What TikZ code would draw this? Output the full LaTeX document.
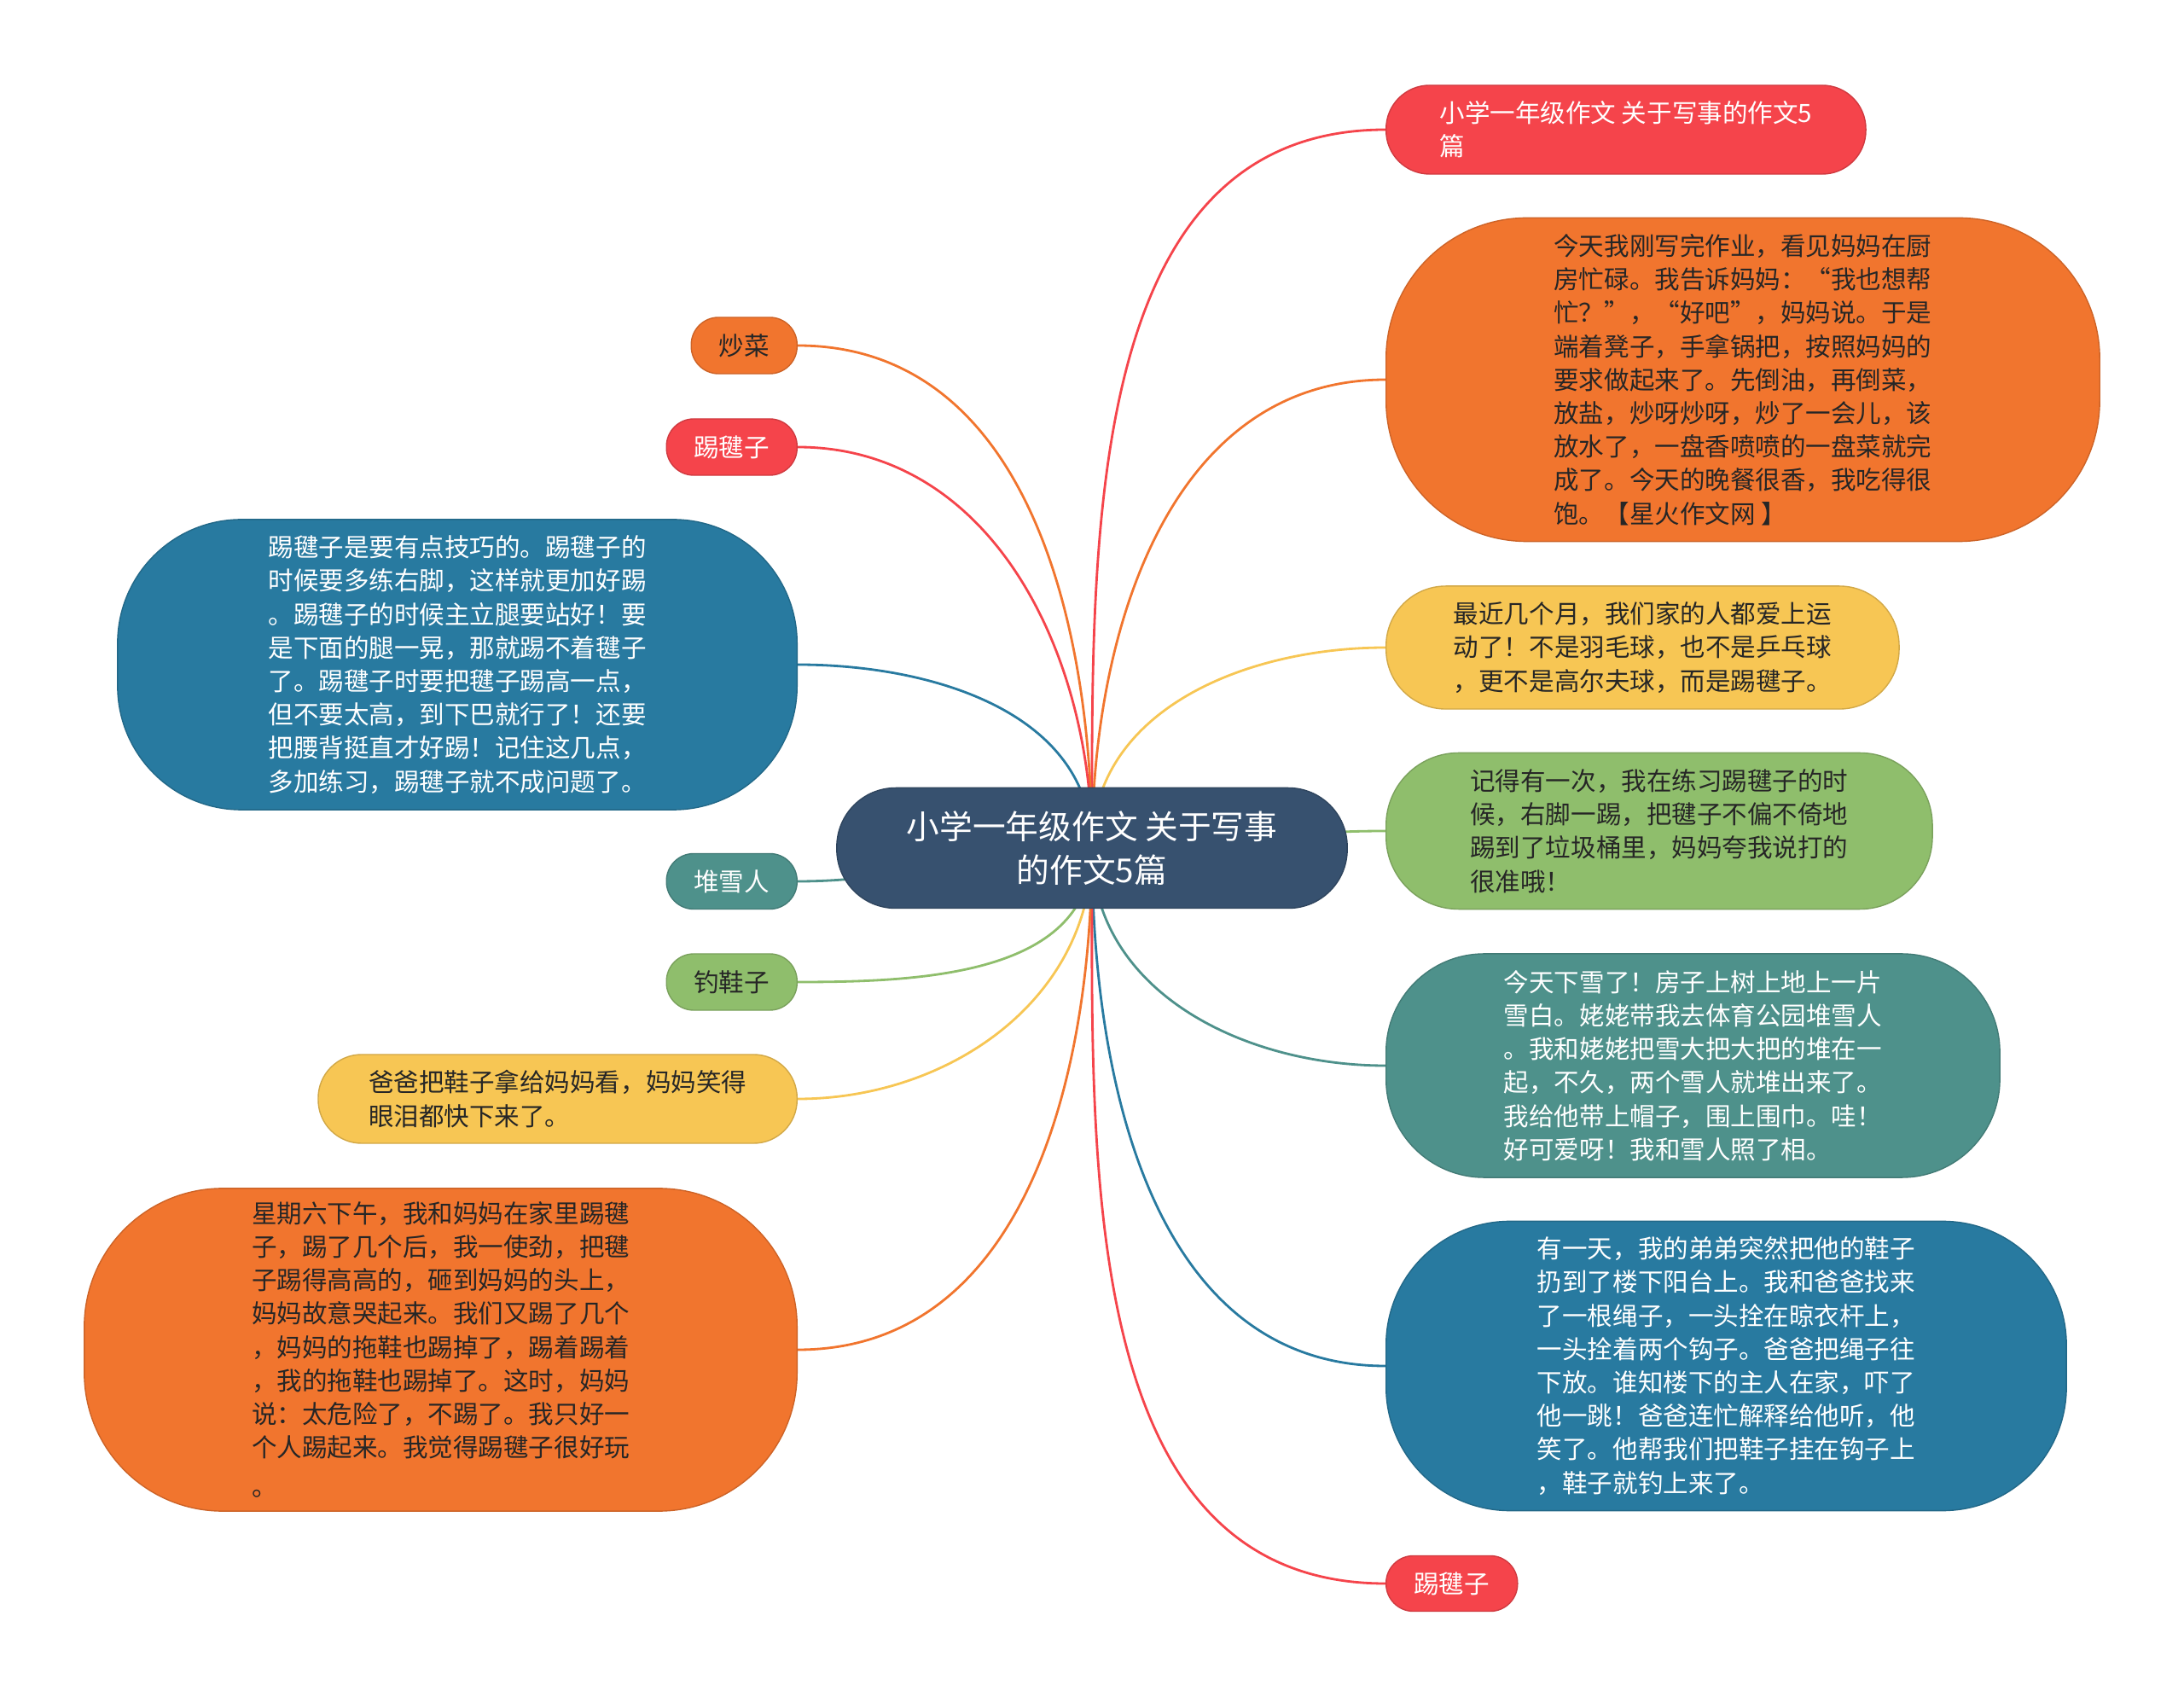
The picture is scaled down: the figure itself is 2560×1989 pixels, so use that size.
\documentclass[tikz,border=0pt]{standalone}
\usepackage{fontspec}
\setmainfont{Noto Sans CJK SC}
\usepackage{tikz}
\usetikzlibrary{positioning,backgrounds}
\definecolor{cred}{HTML}{F5444B}
\definecolor{corange}{HTML}{F1752E}
\definecolor{cyellow}{HTML}{F7C654}
\definecolor{cgreen}{HTML}{8FBE6C}
\definecolor{cteal}{HTML}{4E918B}
\definecolor{cblue}{HTML}{287AA0}
\definecolor{croot}{HTML}{37516F}
\definecolor{cdark}{HTML}{262626}

\begin{document}
\begin{tikzpicture}[x=0.01cm,y=-0.01cm,
  root node/.style={fill=croot, draw=croot!85!black, text=white, align=center, inner sep=0pt,
    font=\fontsize{11pt}{14.3pt}\selectfont},
  leaf node/.style={draw=#1!85!black, line width=0.4pt, fill=#1, align=left, inner sep=0pt,
    font=\fontsize{8.4pt}{11.15pt}\selectfont},
  link/.style={line width=0.8pt}]
\useasboundingbox (0,0) rectangle (2560,1989);

\node[root node, minimum width=5.98cm, minimum height=1.41cm, rounded corners=0.69cm] (0) at (1280,994)
  {小学一年级作文 关于写事\\的作文5篇};

% right side
\node[leaf node=cred, text=white, anchor=west, minimum width=5.62cm, minimum height=1.04cm, rounded corners=0.51cm] (1) at (1624,152)
  {小学一年级作文 关于写事的作文5\\篇};
\node[leaf node=corange, text=cdark, anchor=west, minimum width=8.36cm, minimum height=3.79cm, rounded corners=1.65cm] (2) at (1624,445)
  {今天我刚写完作业，看见妈妈在厨\\房忙碌。我告诉妈妈：“我也想帮\\忙？”，“好吧”，妈妈说。于是\\端着凳子，手拿锅把，按照妈妈的\\要求做起来了。先倒油，再倒菜，\\放盐，炒呀炒呀，炒了一会儿，该\\放水了，一盘香喷喷的一盘菜就完\\成了。今天的晚餐很香，我吃得很\\饱。【星火作文网 】};
\node[leaf node=cyellow, text=cdark, anchor=west, minimum width=6.01cm, minimum height=1.44cm, rounded corners=0.70cm] (3) at (1624,759)
  {最近几个月，我们家的人都爱上运\\动了！不是羽毛球，也不是乒乓球\\，更不是高尔夫球，而是踢毽子。};
\node[leaf node=cgreen, text=cdark, anchor=west, minimum width=6.40cm, minimum height=1.83cm, rounded corners=0.85cm] (4) at (1624,974)
  {记得有一次，我在练习踢毽子的时\\候，右脚一踢，把毽子不偏不倚地\\踢到了垃圾桶里，妈妈夸我说打的\\很准哦！};
\node[leaf node=cteal, text=white, anchor=west, minimum width=7.19cm, minimum height=2.62cm, rounded corners=1.15cm] (5) at (1624,1249)
  {今天下雪了！房子上树上地上一片\\雪白。姥姥带我去体育公园堆雪人\\。我和姥姥把雪大把大把的堆在一\\起，不久，两个雪人就堆出来了。\\我给他带上帽子，围上围巾。哇！\\好可爱呀！我和雪人照了相。};
\node[leaf node=cblue, text=white, anchor=west, minimum width=7.97cm, minimum height=3.39cm, rounded corners=1.45cm] (6) at (1624,1601)
  {有一天，我的弟弟突然把他的鞋子\\扔到了楼下阳台上。我和爸爸找来\\了一根绳子，一头拴在晾衣杆上，\\一头拴着两个钩子。爸爸把绳子往\\下放。谁知楼下的主人在家，吓了\\他一跳！爸爸连忙解释给他听，他\\笑了。他帮我们把鞋子挂在钩子上\\，鞋子就钓上来了。};
\node[leaf node=cred, text=white, anchor=west, minimum width=1.54cm, minimum height=0.65cm, rounded corners=0.32cm] (7) at (1624,1856)
  {踢毽子};

% left side
\node[leaf node=corange, text=cdark, anchor=east, minimum width=1.24cm, minimum height=0.66cm, rounded corners=0.32cm] (8) at (935,405)
  {炒菜};
\node[leaf node=cred, text=white, anchor=east, minimum width=1.53cm, minimum height=0.66cm, rounded corners=0.32cm] (9) at (935,524)
  {踢毽子};
\node[leaf node=cblue, text=white, anchor=east, minimum width=7.96cm, minimum height=3.40cm, rounded corners=1.45cm] (10) at (935,779)
  {踢毽子是要有点技巧的。踢毽子的\\时候要多练右脚，这样就更加好踢\\。踢毽子的时候主立腿要站好！要\\是下面的腿一晃，那就踢不着毽子\\了。踢毽子时要把毽子踢高一点，\\但不要太高，到下巴就行了！还要\\把腰背挺直才好踢！记住这几点，\\多加练习，踢毽子就不成问题了。};
\node[leaf node=cteal, text=white, anchor=east, minimum width=1.53cm, minimum height=0.65cm, rounded corners=0.32cm] (11) at (935,1033)
  {堆雪人};
\node[leaf node=cgreen, text=cdark, anchor=east, minimum width=1.53cm, minimum height=0.66cm, rounded corners=0.32cm] (12) at (935,1151)
  {钓鞋子};
\node[leaf node=cyellow, text=cdark, anchor=east, minimum width=5.61cm, minimum height=1.04cm, rounded corners=0.51cm] (13) at (935,1288)
  {爸爸把鞋子拿给妈妈看，妈妈笑得\\眼泪都快下来了。};
\node[leaf node=corange, text=cdark, anchor=east, minimum width=8.35cm, minimum height=3.78cm, rounded corners=1.62cm] (14) at (935,1582)
  {星期六下午，我和妈妈在家里踢毽\\子，踢了几个后，我一使劲，把毽\\子踢得高高的，砸到妈妈的头上，\\妈妈故意哭起来。我们又踢了几个\\，妈妈的拖鞋也踢掉了，踢着踢着\\，我的拖鞋也踢掉了。这时，妈妈\\说：太危险了，不踢了。我只好一\\个人踢起来。我觉得踢毽子很好玩\\[2pt]。};

\begin{scope}[on background layer]
\path[link]
(0.center) edge [out=90,in=180,draw=cred] (1.west)
(0.center) edge [out=90,in=180,draw=corange] (2.west)
(0.center) edge [out=90,in=180,draw=cyellow] (3.west)
(0.center) edge [out=0,in=180,draw=cgreen] (4.west)
(0.center) edge [out=-90,in=180,draw=cteal] (5.west)
(0.center) edge [out=-90,in=180,draw=cblue] (6.west)
(0.center) edge [out=-90,in=180,draw=cred] (7.west)

(0.center) edge [out=90,in=0,draw=corange] (8.east)
(0.center) edge [out=90,in=0,draw=cred] (9.east)
(0.center) edge [out=90,in=0,draw=cblue] (10.east)
(0.center) edge [out=180,in=0,draw=cteal] (11.east)
(0.center) edge [out=-90,in=0,draw=cgreen] (12.east)
(0.center) edge [out=-90,in=0,draw=cyellow] (13.east)
(0.center) edge [out=-90,in=0,draw=corange] (14.east);
\end{scope}
\end{tikzpicture}
\end{document}
